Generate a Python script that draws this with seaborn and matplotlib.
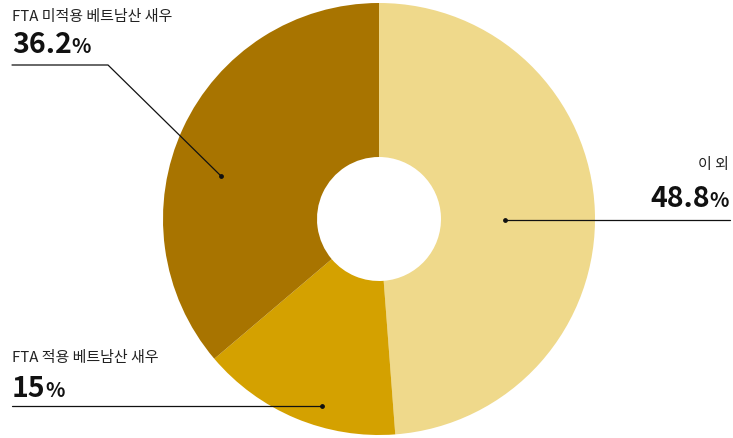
import matplotlib
matplotlib.use("Agg")
import matplotlib.pyplot as plt
import seaborn as sns

# shares of shrimp imports (%)
labels = ['이 외', 'FTA 적용 베트남산 새우', 'FTA 미적용 베트남산 새우']
values = [48.8, 15.0, 36.2]
value_texts = ['48.8', '15', '36.2']
colors = ['#EFD98B', '#D4A100', '#A87400']

sns.set_theme(style="white")
plt.rcParams['font.family'] = ['Noto Sans CJK KR', 'DejaVu Sans']

W, H = 733, 439
fig = plt.figure(figsize=(W / 100, H / 100), dpi=100)
ax = fig.add_axes([0, 0, 1, 1])

# y axis is inverted below (pixel-like coords), so start at 270 and go "counterclock"
# in data space which reads clockwise from 12 o'clock on screen
cx, cy, r_out, r_in = 379, 220, 216, 62
ax.pie(values, colors=sns.color_palette(colors), startangle=270, counterclock=True,
       center=(cx, cy), radius=r_out,
       wedgeprops=dict(width=r_out - r_in, linewidth=0, antialiased=True))

ax.set_xlim(0, W)
ax.set_ylim(H, 0)
ax.set_aspect('auto')
ax.axis('off')

lc = '#111111'
name_kw = dict(fontsize=10.8, color='#222222', va='baseline')
num_kw = dict(fontsize=20.5, fontweight='heavy', color='#111111', va='baseline')
pct_kw = dict(fontsize=14.5, fontweight='heavy', color='#111111', va='baseline')


def big_number(x, y, txt, ha='left'):
    if ha == 'left':
        t = ax.text(x, y, txt, ha='left', **num_kw)
        ax.annotate('%', xy=(1, y), xycoords=(t, 'data'), ha='left', **pct_kw)
    else:
        p = ax.text(x, y, '%', ha='right', **pct_kw)
        ax.annotate(txt, xy=(0, y), xycoords=(p, 'data'), ha='right', **num_kw)


# FTA 미적용 (dark)
ax.text(12, 21, labels[2], ha='left', **name_kw)
big_number(12, 53, value_texts[2])
ax.plot([12, 108, 221], [66, 66, 177], color=lc, lw=0.9)
ax.scatter([221], [177], s=6, color=lc, zorder=5)

# 이 외 (light)
ax.text(729, 169, labels[0], ha='right', **name_kw)
big_number(729, 207, value_texts[0], ha='right')
ax.plot([505, 730], [221, 221], color=lc, lw=0.9)
ax.scatter([505], [221], s=6, color=lc, zorder=5)

# FTA 적용 (mid)
ax.text(12, 362, labels[1], ha='left', **name_kw)
big_number(12, 397, value_texts[1])
ax.plot([12, 322], [407, 407], color=lc, lw=0.9)
ax.scatter([322], [407], s=6, color=lc, zorder=5)

fig.savefig('out.png', dpi=100)
